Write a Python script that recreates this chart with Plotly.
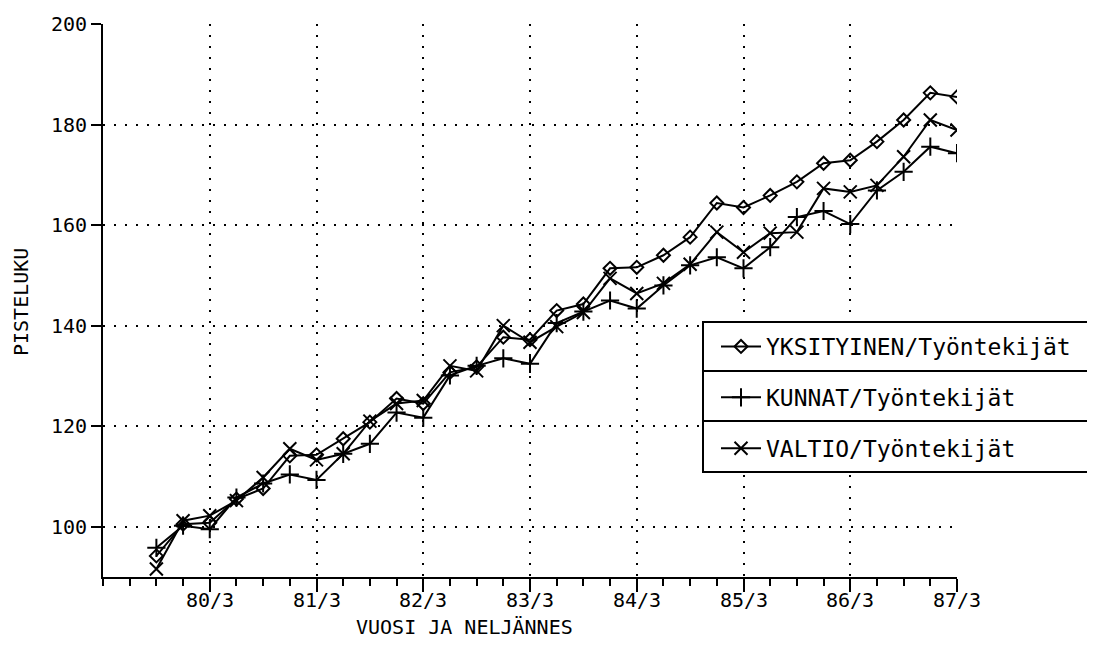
import plotly.graph_objects as go

quarters = ["80/1", "80/2", "80/3", "80/4", "81/1", "81/2", "81/3", "81/4",
            "82/1", "82/2", "82/3", "82/4", "83/1", "83/2", "83/3", "83/4",
            "84/1", "84/2", "84/3", "84/4", "85/1", "85/2", "85/3", "85/4",
            "86/1", "86/2", "86/3", "86/4", "87/1", "87/2", "87/3"]

yksityinen = [94.2, 100.5, 100.8, 105.5, 107.6, 114.1, 114.3, 117.5, 120.8, 125.5,
              124.5, 130.7, 131.8, 137.7, 137.2, 143.0, 144.3, 151.4, 151.6, 154.0,
              157.6, 164.4, 163.5, 165.9, 168.6, 172.3, 172.9, 176.6, 180.9, 186.3, 185.5]
kunnat = [95.8, 100.2, 99.5, 105.8, 108.6, 110.4, 109.3, 114.5, 116.5, 122.7,
          121.7, 130.1, 132.0, 133.5, 132.4, 140.5, 142.8, 145.0, 143.4, 148.0,
          152.0, 153.6, 151.4, 155.6, 161.6, 162.8, 160.2, 166.9, 170.6, 175.6, 174.3]
valtio = [91.6, 101.2, 102.2, 105.2, 109.8, 115.5, 113.3, 114.5, 121.0, 124.5,
          125.1, 132.0, 131.0, 140.0, 136.7, 139.8, 142.6, 149.4, 146.4, 148.4,
          152.2, 158.6, 154.6, 158.4, 158.6, 167.3, 166.6, 167.9, 173.6, 180.9, 178.9]

tick_labels = ["80/3", "81/3", "82/3", "83/3", "84/3", "85/3", "86/3", "87/3"]
y_ticks = [100, 120, 140, 160, 180, 200]


def qnum(q):
    return int(q[:2]) + (int(q[3]) - 1) / 4


x = [qnum(q) for q in quarters]
tickvals = [qnum(t) for t in tick_labels]

FONT = "DejaVu Sans Mono"

# page is offset by the browser's 8px body margin
OFF = 8
PL, PR, PT, PB = 103, 957, 24, 577  # plot area in page pixels
W, H = 1087, 641

fig = go.Figure()
series = [
    ("YKSITYINEN/Työntekijät", yksityinen, "diamond-open", 10),
    ("KUNNAT/Työntekijät", kunnat, "cross-thin-open", 13),
    ("VALTIO/Työntekijät", valtio, "x-thin-open", 13),
]
for i, (name, vals, sym, size) in enumerate(series):
    fig.add_trace(go.Scatter(
        x=x, y=vals, name=name, mode="lines+markers",
        line=dict(color="black", width=2),
        marker=dict(symbol=sym, size=size, color="black",
                    line=dict(color="black", width=2)),
        legendgroup=f"g{i}",
    ))


def px_x(px):
    return (px - PL) / (PR - PL)


def px_y(py):
    return (PB - py) / (PB - PT)


fig.update_layout(
    width=W, height=H,
    margin=dict(l=PL - OFF, r=W - (PR - OFF), t=PT - OFF, b=H - (PB - OFF), autoexpand=False),
    paper_bgcolor="white", plot_bgcolor="white",
    font=dict(family=FONT, size=20, color="black"),
    showlegend=True,
    legend=dict(x=px_x(716), y=px_y(325), xanchor="left", yanchor="top",
                bgcolor="rgba(0,0,0,0)", borderwidth=0,
                traceorder="grouped", tracegroupgap=18,
                font=dict(family=FONT, size=23, color="black"),
                itemwidth=40),
)

fig.update_xaxes(
    range=[79.5, 87.5], tickmode="array", tickvals=tickvals, ticktext=tick_labels,
    showticklabels=False,
    showline=True, linecolor="black", linewidth=2,
    ticks="outside", ticklen=13, tickwidth=2, tickcolor="black",
    showgrid=True, gridcolor="black", gridwidth=2, griddash="2px,9px",
    zeroline=False,
    minor=dict(ticks="outside", ticklen=7, tickwidth=2, tickcolor="black",
               tick0=79.5, dtick=0.25, showgrid=False),
)
fig.update_yaxes(
    range=[90, 200], tickmode="array", tickvals=y_ticks,
    showline=True, linecolor="black", linewidth=2,
    ticks="outside", ticklen=10, tickwidth=2, tickcolor="black",
    showgrid=True, gridcolor="black", gridwidth=2, griddash="2px,9px",
    zeroline=False,
    tickfont=dict(family=FONT, size=20),
)

for tv, tl in zip(tickvals, tick_labels):
    fig.add_annotation(text=tl, xref="x", yref="paper", x=tv, y=px_y(600),
                       showarrow=False, xanchor="center", yanchor="middle",
                       font=dict(family=FONT, size=20))

fig.add_shape(type="rect", xref="paper", yref="paper",
              x0=px_x(703), x1=px_x(1091), y0=px_y(472), y1=px_y(322),
              line=dict(color="black", width=2), fillcolor="white", layer="above")
for py in (371, 421):
    fig.add_shape(type="line", xref="paper", yref="paper",
                  x0=px_x(703), x1=px_x(1091), y0=px_y(py), y1=px_y(py),
                  line=dict(color="black", width=2), layer="above")

fig.add_annotation(text="VUOSI JA NELJÄNNES", xref="paper", yref="paper",
                   x=px_x(464), y=px_y(627), showarrow=False,
                   font=dict(family=FONT, size=20), xanchor="center", yanchor="middle")
fig.add_annotation(text="PISTELUKU", xref="paper", yref="paper",
                   x=px_x(21), y=px_y(302), showarrow=False, textangle=-90,
                   font=dict(family=FONT, size=20), xanchor="center", yanchor="middle")

fig.write_html("out.html")
